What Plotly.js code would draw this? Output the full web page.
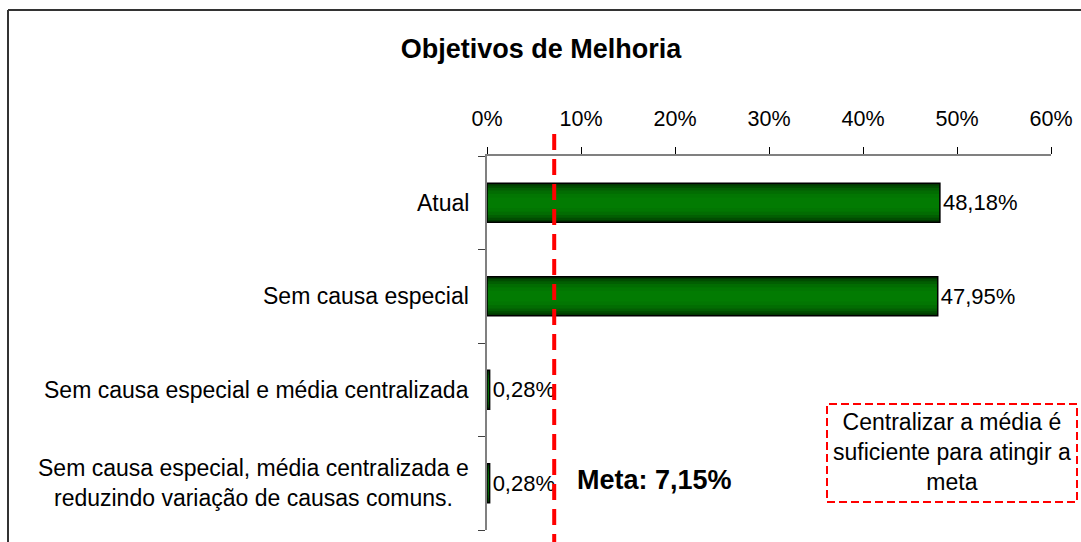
<!DOCTYPE html>
<html>
<head>
<meta charset="utf-8">
<script src="https://cdn.plot.ly/plotly-3.0.1.min.js"></script>
<style>
  html, body { margin: 0; padding: 0; background: #ffffff; }
  #chart { width: 1081px; height: 542px; }
</style>
</head>
<body>
<div id="chart"></div>
<script>
// ---- data ----
const chartTitle = "Objetivos de Melhoria";
const categories = [
  "Atual",
  "Sem causa especial",
  "Sem causa especial e média centralizada",
  "Sem causa especial, média centralizada e<br>reduzindo variação de causas comuns."
];
const values = [48.18, 47.95, 0.28, 0.28];
const metaValue = 7.15;
const xTickValues = [0, 10, 20, 30, 40, 50, 60];
const xTickLabels = ["0%", "10%", "20%", "30%", "40%", "50%", "60%"];
const noteText = "Centralizar a média é<br>suficiente para atingir a<br>meta";

// ---- styling ----
const FONT = "Liberation Sans, Arial, sans-serif";
const gradientColors = ["#013801", "#014c01", "#025e02", "#026c02", "#027602", "#027b02"];
const gradientWidths = [0.417, 0.37, 0.32, 0.26, 0.19, 0.11];
const yIdx = categories.map((c, i) => i);

const traces = gradientColors.map((col, k) => ({
  type: "bar",
  orientation: "h",
  x: values,
  y: yIdx,
  width: gradientWidths[k],
  marker: { color: col, line: { width: 0 } },
  hoverinfo: "skip",
  showlegend: false
}));
// outline + labels on top
traces.push({
  type: "bar",
  orientation: "h",
  x: values,
  y: yIdx,
  width: gradientWidths[0],
  marker: { color: "rgba(0,0,0,0)", line: { color: "#000000", width: 1.5 } },
  texttemplate: "%{x:.2f}%",
  textposition: "outside",
  textfont: { family: FONT, size: 22, color: "#000000" },
  cliponaxis: false,
  showlegend: false
});

const L = 487, R = 1051, T = 156, B = 530;
const px2x = p => (p - L) / (R - L);
const px2y = p => (B - p) / (B - T);

const fmt = v => v.toFixed(2).replace(".", ",");

const annotations = categories.map((c, i) => ({
  xref: "paper", yref: "y",
  x: 0, y: i,
  xanchor: "right", yanchor: "middle",
  xshift: -16,
  text: c,
  align: "center",
  showarrow: false,
  font: { family: FONT, size: 23, color: "#000000" }
}));
annotations.push({
  xref: "x", yref: "paper",
  x: metaValue, y: px2y(480),
  xanchor: "left", yanchor: "middle",
  xshift: 21,
  text: "<b>Meta: " + fmt(metaValue) + "%</b>",
  showarrow: false,
  font: { family: FONT, size: 27, color: "#000000" }
});
annotations.push({
  xref: "paper", yref: "paper",
  x: px2x(952), y: px2y(452),
  xanchor: "center", yanchor: "middle",
  text: noteText,
  align: "center",
  showarrow: false,
  font: { family: FONT, size: 23, color: "#000000" }
});

const shapes = [
  // outer frame (top & left)
  { type: "line", xref: "paper", yref: "paper", x0: px2x(8), x1: px2x(1090), y0: px2y(10), y1: px2y(10),
    line: { color: "#333333", width: 2 } },
  { type: "line", xref: "paper", yref: "paper", x0: px2x(8), x1: px2x(8), y0: px2y(10), y1: px2y(550),
    line: { color: "#333333", width: 2 } },
  // meta line
  { type: "line", xref: "x", yref: "paper", x0: metaValue, x1: metaValue, y0: px2y(550), y1: px2y(125),
    line: { color: "#ff0000", width: 4, dash: "16px,9px" }, layer: "above" },
  // note box
  { type: "rect", xref: "paper", yref: "paper", x0: px2x(827), x1: px2x(1077), y0: px2y(502), y1: px2y(404),
    line: { color: "#ff0000", width: 2, dash: "8px,4px" }, fillcolor: "rgba(0,0,0,0)" }
];

const layout = {
  width: 1081, height: 542,
  margin: { l: L, r: 1081 - R, t: T, b: 542 - B, pad: 0 },
  paper_bgcolor: "#ffffff",
  plot_bgcolor: "#ffffff",
  barmode: "overlay",
  separators: ",.",
  showlegend: false,
  font: { family: FONT, color: "#000000" },
  title: {
    text: "<b>" + chartTitle + "</b>",
    font: { family: FONT, size: 27, color: "#000000" },
    xref: "container", yref: "container",
    x: 541 / 1081, y: 1 - 49 / 542,
    xanchor: "center", yanchor: "middle"
  },
  xaxis: {
    side: "top",
    range: [0, 60],
    tickvals: xTickValues,
    ticktext: xTickLabels,
    ticks: "outside", ticklen: 7, tickwidth: 1, tickcolor: "#000000",
    showline: true, linecolor: "#808080", linewidth: 2,
    showgrid: false, zeroline: false,
    tickfont: { family: FONT, size: 21.5, color: "#000000" },
    ticklabelstandoff: 12,
    fixedrange: true
  },
  yaxis: {
    type: "linear",
    range: [categories.length - 0.5, -0.5],
    tickvals: [-0.5, 0.5, 1.5, 2.5, 3.5],
    showticklabels: false,
    ticks: "outside", ticklen: 7, tickwidth: 1, tickcolor: "#404040",
    showline: true, linecolor: "#808080", linewidth: 2,
    showgrid: false, zeroline: false,
    fixedrange: true
  },
  annotations: annotations,
  shapes: shapes
};

Plotly.newPlot("chart", traces, layout, { displayModeBar: false, staticPlot: true });
</script>
</body>
</html>
